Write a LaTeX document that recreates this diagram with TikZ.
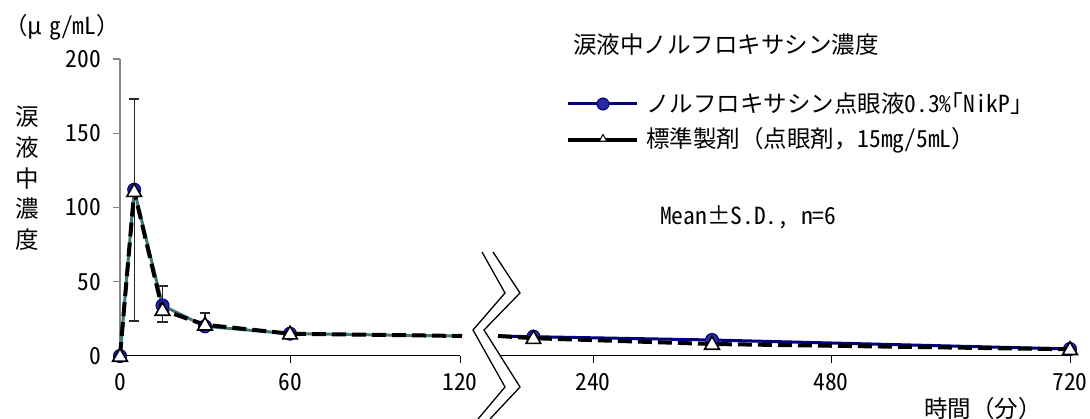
\documentclass[tikz,border=0pt]{standalone}
\usepackage{fontspec}
\setmainfont{Noto Sans CJK JP}
\newfontfamily\hw[CharacterWidth=Half]{Noto Sans CJK JP}
\usetikzlibrary{shapes.geometric}
\definecolor{navyb}{RGB}{0,0,128}
\definecolor{mfill}{RGB}{40,40,165}
\definecolor{tealb}{RGB}{64,120,120}
\definecolor{axgray}{RGB}{134,134,134}
\tikzset{
  txt/.style={inner sep=0pt, font=\fontsize{23.5}{28}\selectfont},
  yax/.style={draw=axgray, line width=1.3pt},
  xax/.style={draw=black, line width=1pt},
  bluel/.style={draw=navyb, line width=3pt, line join=round},
  teall/.style={draw=tealb, line width=3pt, line join=round},
  blackl/.style={draw=black, line width=4pt, dash pattern=on 14pt off 6pt, line join=round},
  circm/.style={circle, draw=navyb, fill=mfill, line width=1pt, minimum size=13pt, inner sep=0pt},
  trim/.style={regular polygon, regular polygon sides=3, draw=black, fill=white, line width=1.6pt, minimum size=17pt, inner sep=0pt},
  errb/.style={draw=black!85, line width=1.1pt},
  brk/.style={draw=black, line width=1.3pt},
}
\begin{document}
\begin{tikzpicture}[x=1pt, y=-1pt]
\useasboundingbox (0,0) rectangle (1090,419);
% axes
\draw[yax] (120,59) -- (120,356);
\foreach \yy in {59,133.25,207.5,281.75,356} \draw[yax] (113,\yy) -- (120,\yy);
\draw[xax] (120,356) -- (460,356);
\foreach \xx in {120,290,460} \draw[xax] (\xx,356) -- (\xx,363);
\draw[xax] (500,356) -- (1071,356);
\foreach \xx in {593,831,1070} \draw[xax] (\xx,356) -- (\xx,363);
% tick labels
\node[txt, anchor=east] (y200) at (101,59) {\hw 200};
\node[txt, anchor=east] (y150) at (101,133.25) {\hw 150};
\node[txt, anchor=east] (y100) at (101,207.5) {\hw 100};
\node[txt, anchor=east] (y50) at (101,281.75) {\hw 50};
\node[txt, anchor=east] (y0) at (101,356) {\hw 0};
\node[txt] (x0) at (120,382) {\hw 0};
\node[txt] (x60) at (290,382) {\hw 60};
\node[txt] (x120) at (460,382) {\hw 120};
\node[txt] (x240) at (593,382) {\hw 240};
\node[txt] (x480) at (831,382) {\hw 480};
\node[txt] (x720) at (1070,382) {\hw 720};
% axis titles
\node[txt, anchor=west] (unit) at (4,27) {（μ\hspace{7pt}{\hw g/mL}）};
\node[txt, align=center, font=\fontsize{23.5}{30.7}\selectfont] (ylab) at (27,178.5) {涙\\液\\中\\濃\\度};
\node[txt, anchor=west] (xlab) at (924,409) {時間（分）};
% data coordinates
\coordinate (b0) at (120,356);
\coordinate (b5) at (134.2,189.7);
\coordinate (b15) at (162.5,305.5);
\coordinate (b30) at (205,326.3);
\coordinate (b60) at (290,333.7);
\coordinate (b120) at (462,336);
\coordinate (k0) at (120,356);
\coordinate (k5) at (134.2,191.2);
\coordinate (k15) at (162.5,310);
\coordinate (k30) at (205,324.8);
\coordinate (k60) at (290,333.7);
\coordinate (k120) at (462,336);
\coordinate (rb0) at (498,336);
\coordinate (rb180) at (533.4,336.7);
\coordinate (rb360) at (712,340);
\coordinate (rb720) at (1070,349);
\coordinate (rk0) at (498,336);
\coordinate (rk180) at (533.4,338.2);
\coordinate (rk360) at (712,344);
\coordinate (rk720) at (1070,349.3);
% error bars
\draw[errb] (134.2,321) -- (134.2,99);
\draw[errb] (129,321) -- (139.4,321);
\draw[errb] (129,99) -- (139.4,99);
\draw[errb] (162.5,322) -- (162.5,286);
\draw[errb] (157.3,322) -- (167.7,322);
\draw[errb] (157.3,286) -- (167.7,286);
\draw[errb] (205,326) -- (205,313);
\draw[errb] (199.8,313) -- (210.2,313);
% blue series
\draw[teall] (b0) -- (b5) -- (b15) -- (b30) -- (b60) -- (b120);
\draw[bluel] (rb0) -- (rb180) -- (rb360) -- (rb720);
\foreach \p in {b0,b5,b15,b30,b60,rb180,rb360,rb720} \node[circm] (m\p) at (\p) {};
% black series
\draw[blackl] (k0) -- (k5) -- (k15) -- (k30) -- (k60) -- (k120);
\draw[blackl] (rk0) -- (rk180) -- (rk360) -- (rk720);
\foreach \p in {k0,k5,k15,k30,k60,rk180,rk360,rk720} \node[trim, yshift=-1pt] (t\p) at (\p) {};
% axis break
\draw[brk] (482,252) -- (505,293) -- (473,330) -- (505,387) -- (478,419);
\draw[brk] (493,252) -- (520,293) -- (484,330) -- (520,387) -- (490,419);
% legend
\node[txt, anchor=west] (ltitle) at (573,45) {涙液中ノルフロキサシン濃度};
\coordinate (l1a) at (568,104);
\coordinate (l1b) at (637,104);
\draw[bluel] (l1a) -- (l1b);
\node[circm, minimum size=12pt] (l1m) at (603,104) {};
\node[txt, anchor=west] (l1t) at (646,104) {ノルフロキサシン点眼液{\hw 0.3\%｢NikP｣}};
\coordinate (l2a) at (568,140);
\coordinate (l2b) at (637,140);
\draw[draw=black, line width=4pt] (l2a) -- (l2b);
\node[trim, minimum size=9pt, line width=1pt] (l2m) at (603,139) {};
\node[txt, anchor=west] (l2t) at (646,140) {標準製剤（点眼剤，{\hw 15mg/5mL}）};
\node[txt, anchor=west] (stat) at (660,217) {{\hw Mean}±{\hw S.D., n=6}};
\end{tikzpicture}
\end{document}
